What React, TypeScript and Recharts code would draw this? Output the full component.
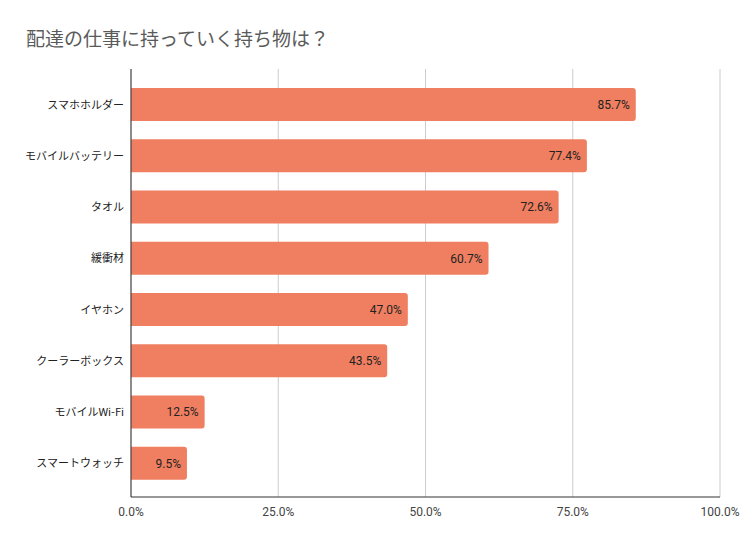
import { BarChart, Bar, XAxis, YAxis, CartesianGrid, LabelList } from 'recharts';

const items = [
  'スマホホルダー',
  'モバイルバッテリー',
  'タオル',
  '緩衝材',
  'イヤホン',
  'クーラーボックス',
  'モバイルWi-Fi',
  'スマートウォッチ',
];
const shares = [85.7, 77.4, 72.6, 60.7, 47.0, 43.5, 12.5, 9.5];
const xTicks = [0, 25, 50, 75, 100];

const data = items.map((name, i) => ({ name, value: shares[i] }));

const pct = (v: number) => `${Number(v).toFixed(1)}%`;

export default function App() {
  return (
    <div style={{ position: 'absolute', left: 0, top: 0, width: 748, height: 545, background: '#fff' }}>
      <div
        style={{
          position: 'absolute',
          left: 26,
          top: 28,
          fontFamily: '"Noto Sans CJK JP", sans-serif',
          fontSize: 19,
          lineHeight: '19px',
          color: '#5a5a5a',
          whiteSpace: 'nowrap',
        }}
      >
        配達の仕事に持っていく持ち物は？
      </div>
      <BarChart
        width={748}
        height={545}
        data={data}
        layout="vertical"
        margin={{ top: 69, right: 28, bottom: 18, left: 0 }}
      >
        <CartesianGrid horizontal={false} stroke="#cccccc" />
        <XAxis
          type="number"
          domain={[0, 100]}
          ticks={xTicks}
          tickFormatter={pct}
          height={30}
          tickLine={false}
          tickSize={0}
          tickMargin={10}
          axisLine={{ stroke: '#333' }}
          tick={{ fill: '#444', fontSize: 12, fontFamily: 'Roboto, Arial, sans-serif' }}
        />
        <YAxis
          type="category"
          dataKey="name"
          width={131}
          padding={{ top: 10, bottom: 8 }}
          tickLine={false}
          tickSize={0}
          tickMargin={7}
          axisLine={{ stroke: '#333' }}
          tick={{ fill: '#222', fontSize: 11, fontFamily: '"Noto Sans CJK JP", sans-serif' }}
        />
        <Bar dataKey="value" fill="#ef7f60" barSize={33} radius={[0, 3, 3, 0]} isAnimationActive={false}>
          <LabelList
            dataKey="value"
            position="insideRight"
            offset={6}
            formatter={pct}
            style={{ fill: '#222', fontSize: 12, fontFamily: 'Roboto, Arial, sans-serif' }}
          />
        </Bar>
      </BarChart>
    </div>
  );
}
